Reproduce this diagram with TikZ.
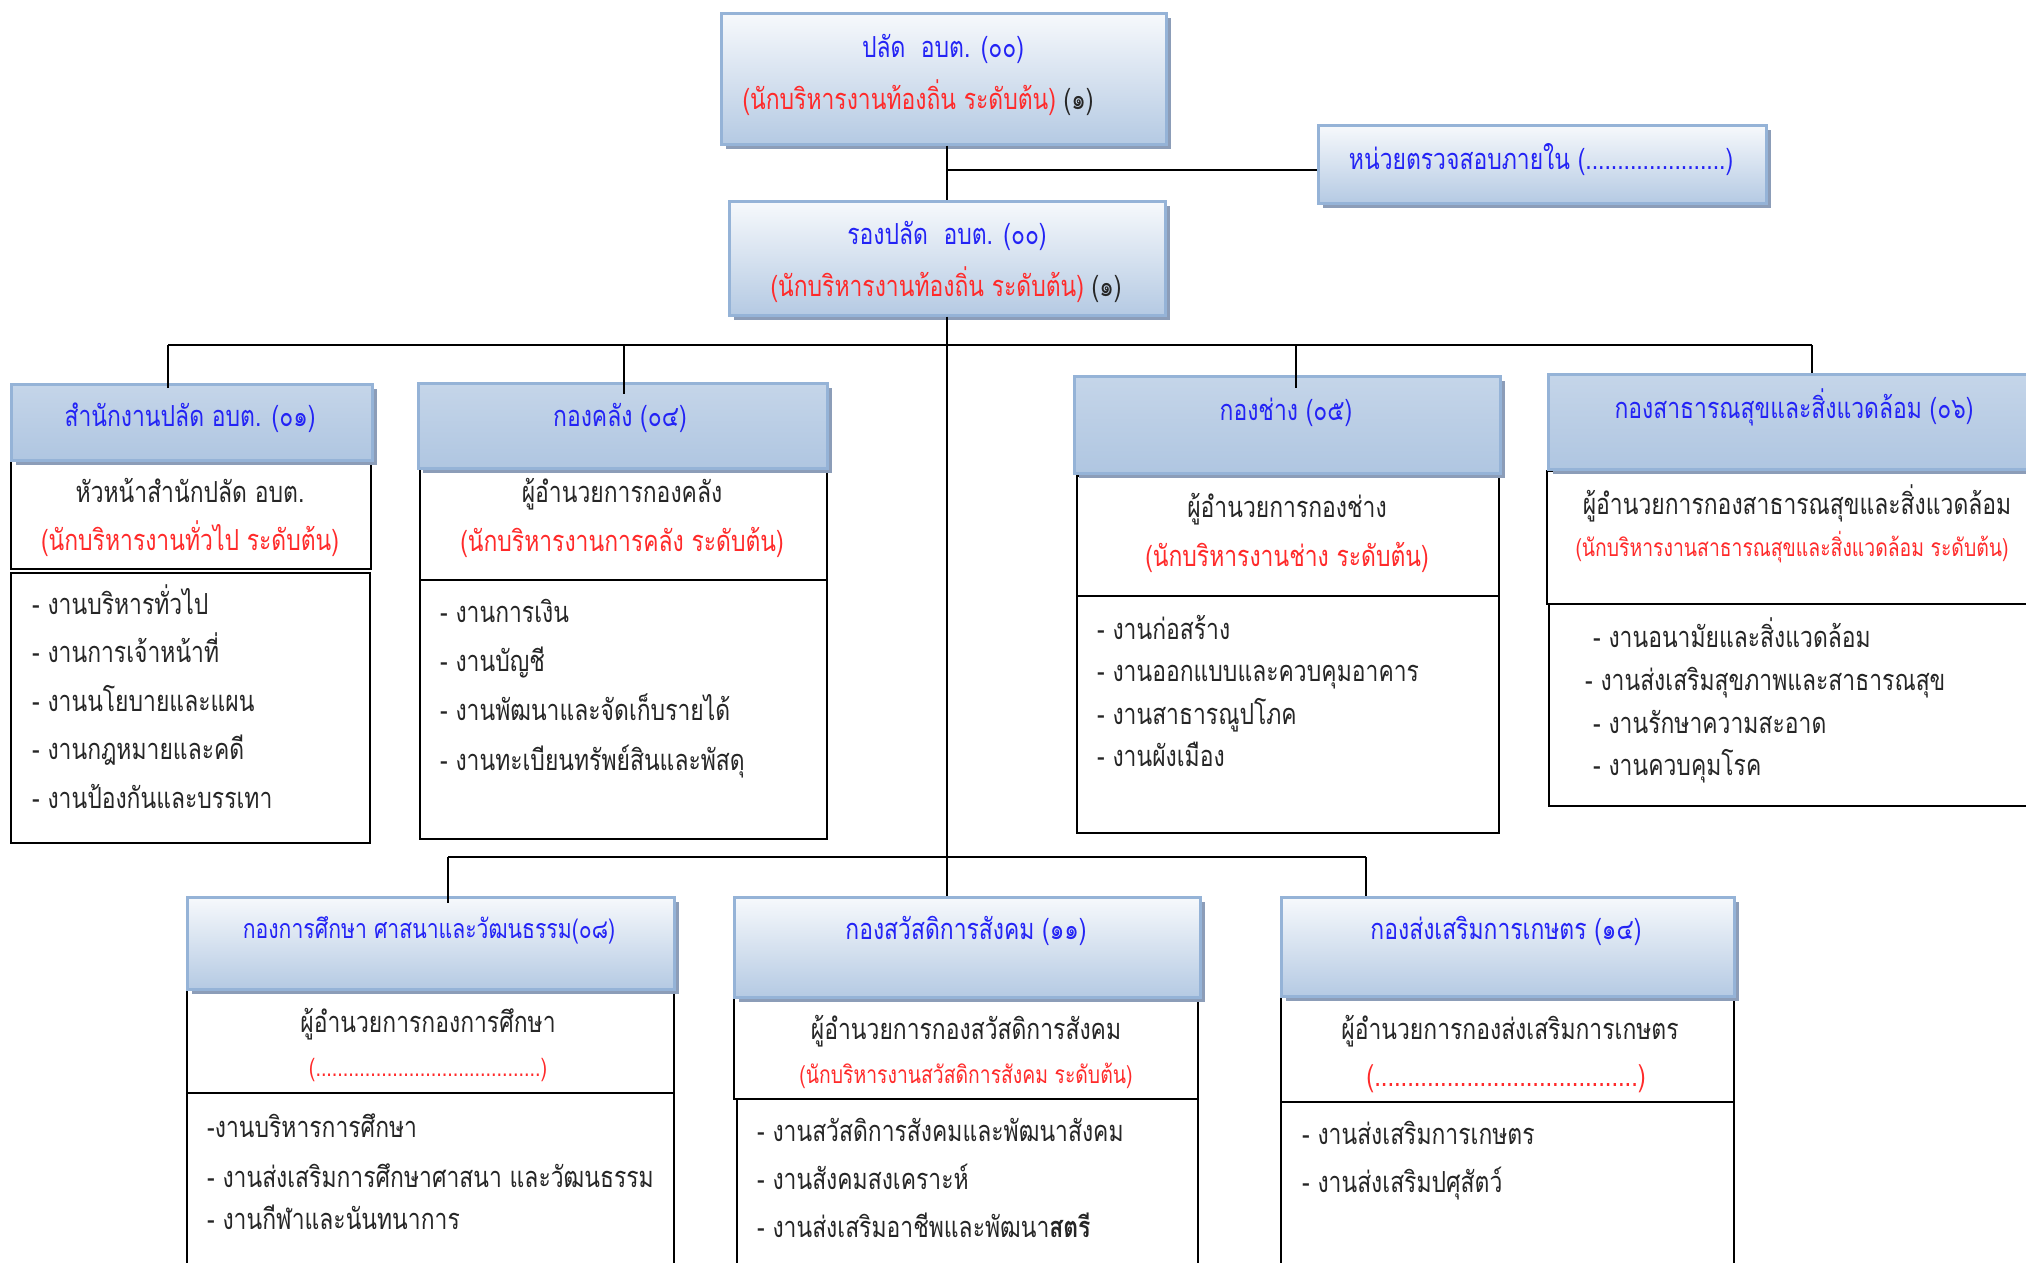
\documentclass[tikz,border=0pt]{standalone}
\usepackage{fontspec}
\setmainfont[Script=Thai, FakeStretch=0.79]{Loma}
\usetikzlibrary{shadows}

\definecolor{hdrline}{HTML}{95B3D7}
\definecolor{shadowc}{HTML}{8C9DB8}
\definecolor{tblue}{HTML}{2323F5}
\definecolor{tred}{HTML}{FF2A2A}
\definecolor{tgrey}{HTML}{262626}

\tikzset{
  conn/.style={draw=black, line width=2pt},
  plainbox/.style={draw=black, line width=2.4pt, fill=white, inner sep=0pt, anchor=north west},
  hdrbase/.style={draw=hdrline, line width=2.5pt, inner sep=0pt, anchor=north west,
    drop shadow={shadow xshift=5pt, shadow yshift=-5pt, fill=shadowc, opacity=1}},
  hdrtop/.style={hdrbase, top color=white!92!hdrline, bottom color=hdrline!70!white},
  hdrmid/.style={hdrbase, top color=hdrline!55!white, middle color=white!80!hdrline, bottom color=hdrline!75!white},
  txt/.style={inner sep=0pt, anchor=base, font=\fontsize{29}{33}\selectfont, text=tgrey},
  ttl/.style={txt, text=tblue},
  rnk/.style={txt, text=tred},
  rnks/.style={txt, text=tred, font=\fontsize{24.5}{28}\selectfont},
  item/.style={txt, anchor=base west},
}

\begin{document}
\begin{tikzpicture}[x=1pt, y=-1pt]
\useasboundingbox (0,0) rectangle (2026,1262);
\clip (0,0) rectangle (2026,1262);
\fill[white] (0,0) rectangle (2026,1262);

% ---- lower boxes of each division (drawn first, headers overlap them)
\node[plainbox, minimum width=359pt, minimum height=270pt] (officeL) at (10,572) {};
\node[plainbox, minimum width=360pt, minimum height=109pt] (officeS) at (10,459) {};
\node[plainbox, minimum width=407pt, minimum height=259pt] (finL) at (419,579) {};
\node[plainbox, minimum width=407pt, minimum height=112pt] (finS) at (419,467) {};
\node[plainbox, minimum width=422pt, minimum height=237pt] (engL) at (1076,595) {};
\node[plainbox, minimum width=422pt, minimum height=120pt] (engS) at (1076,475) {};
\node[plainbox, minimum width=500pt, minimum height=202pt] (hlthL) at (1548,603) {};
\node[plainbox, minimum width=500pt, minimum height=133pt] (hlthS) at (1546,470) {};
\node[plainbox, minimum width=487pt, minimum height=200pt] (eduL) at (186,1092) {};
\node[plainbox, minimum width=487pt, minimum height=104pt] (eduS) at (186,988) {};
\node[plainbox, minimum width=461pt, minimum height=200pt] (welL) at (736,1098) {};
\node[plainbox, minimum width=464pt, minimum height=102pt] (welS) at (733,996) {};
\node[plainbox, minimum width=453pt, minimum height=200pt] (agrL) at (1280,1101) {};
\node[plainbox, minimum width=453pt, minimum height=106pt] (agrS) at (1280,995) {};

% ---- connector junctions
\coordinate (j0) at (946,170);
\coordinate (busA) at (168,345);
\coordinate (busB) at (624,345);
\coordinate (busC) at (1296,345);
\coordinate (busD) at (1812,345);
\coordinate (lowA) at (448,857);
\coordinate (lowB) at (1366,857);

% ---- header boxes
\node[hdrtop, minimum width=445pt, minimum height=131pt] (top) at (720,12) {};
\node[hdrtop, minimum width=436pt, minimum height=114pt] (deputy) at (728,200) {};
\node[hdrtop, minimum width=448pt, minimum height=78pt] (audit) at (1317,124) {};
\node[hdrmid, minimum width=361pt, minimum height=76pt] (office) at (10,383) {};
\node[hdrmid, minimum width=409pt, minimum height=85pt] (fin) at (417,382) {};
\node[hdrmid, minimum width=426pt, minimum height=97pt] (eng) at (1073,375) {};
\node[hdrmid, minimum width=500pt, minimum height=95pt] (hlth) at (1547,373) {};
\node[hdrtop, minimum width=487pt, minimum height=92pt] (edu) at (186,896) {};
\node[hdrtop, minimum width=466pt, minimum height=100pt] (wel) at (733,896) {};
\node[hdrtop, minimum width=453pt, minimum height=99pt] (agr) at (1280,896) {};

\draw[conn] (deputy.north |- top.south) -- (deputy.north);
\draw[conn] (j0) -- (j0 -| audit.west);
\draw[conn] (deputy.south) -- (deputy.south |- wel.north);
\draw[conn] (busA) -- (busD);
\draw[conn] (busA) -- (busA |- office.north) -- ++(0,5);
\draw[conn] (busB) -- (busB |- fin.north) -- ++(0,12);
\draw[conn] (busC) -- (busC |- eng.north) -- ++(0,13);
\draw[conn] (busD) -- (busD |- hlth.north);
\draw[conn] (lowA) -- (lowB);
\draw[conn] (lowA) -- (lowA |- edu.north) -- ++(0,7);
\draw[conn] (lowB) -- (lowB |- agr.north);

% ---- top level
\node[ttl] (topA) at (943,57) {ปลัด\ \ อบต. (๐๐)};
\node[txt] (topB) at (918,109) {\textcolor{tred}{(นักบริหารงานท้องถิ่น ระดับต้น)} (๑)};
\node[ttl] (depA) at (947,244) {รองปลัด\ \ อบต. (๐๐)};
\node[txt] (depB) at (946,296) {\textcolor{tred}{(นักบริหารงานท้องถิ่น ระดับต้น)} (๑)};
\node[ttl] (audA) at (1541,169) {หน่วยตรวจสอบภายใน (......................)};

% ---- office of the permanent secretary
\node[ttl] (offA) at (190,426) {สำนักงานปลัด อบต. (๐๑)};
\node[txt] (offB) at (190,502) {หัวหน้าสำนักปลัด อบต.};
\node[rnk] (offC) at (190,550) {(นักบริหารงานทั่วไป ระดับต้น)};
\node[item] (off1) at (32,614) {- งานบริหารทั่วไป};
\node[item] (off2) at (32,662) {- งานการเจ้าหน้าที่};
\node[item] (off3) at (32,711) {- งานนโยบายและแผน};
\node[item] (off4) at (32,759) {- งานกฎหมายและคดี};
\node[item] (off5) at (32,808) {- งานป้องกันและบรรเทา};

% ---- finance
\node[ttl] (finA) at (620,426) {กองคลัง (๐๔)};
\node[txt] (finB) at (622,502) {ผู้อำนวยการกองคลัง};
\node[rnk] (finC) at (622,551) {(นักบริหารงานการคลัง ระดับต้น)};
\node[item] (fin1) at (440,622) {- งานการเงิน};
\node[item] (fin2) at (440,671) {- งานบัญชี};
\node[item] (fin3) at (440,720) {- งานพัฒนาและจัดเก็บรายได้};
\node[item] (fin4) at (440,770) {- งานทะเบียนทรัพย์สินและพัสดุ};

% ---- engineering
\node[ttl] (engA) at (1286,420) {กองช่าง (๐๕)};
\node[txt] (engB) at (1287,517) {ผู้อำนวยการกองช่าง};
\node[rnk] (engC) at (1287,566) {(นักบริหารงานช่าง ระดับต้น)};
\node[item] (eng1) at (1097,639) {- งานก่อสร้าง};
\node[item] (eng2) at (1097,681) {- งานออกแบบและควบคุมอาคาร};
\node[item] (eng3) at (1097,724) {- งานสาธารณูปโภค};
\node[item] (eng4) at (1097,766) {- งานผังเมือง};

% ---- public health and environment
\node[ttl] (hlA) at (1794,418) {กองสาธารณสุขและสิ่งแวดล้อม (๐๖)};
\node[txt] (hlB) at (1797,514) {ผู้อำนวยการกองสาธารณสุขและสิ่งแวดล้อม};
\node[rnks] (hlC) at (1792,556) {(นักบริหารงานสาธารณสุขและสิ่งแวดล้อม ระดับต้น)};
\node[item] (hl1) at (1593,647) {- งานอนามัยและสิ่งแวดล้อม};
\node[item] (hl2) at (1585,690) {- งานส่งเสริมสุขภาพและสาธารณสุข};
\node[item] (hl3) at (1593,733) {- งานรักษาความสะอาด};
\node[item] (hl4) at (1593,775) {- งานควบคุมโรค};

% ---- education
\node[ttl, font=\fontsize{26.8}{30}\selectfont] (edA) at (429,938) {กองการศึกษา ศาสนาและวัฒนธรรม(๐๘)};
\node[txt] (edB) at (428,1032) {ผู้อำนวยการกองการศึกษา};
\node[rnks, font=\fontsize{25}{28}\selectfont] (edC) at (428,1076) {(.........................................)};
\node[item] (ed1) at (207,1137) {-งานบริหารการศึกษา};
\node[item] (ed2) at (207,1187) {- งานส่งเสริมการศึกษาศาสนา และวัฒนธรรม};
\node[item] (ed3) at (207,1229) {- งานกีฬาและนันทนาการ};

% ---- social welfare
\node[ttl] (weA) at (966,939) {กองสวัสดิการสังคม (๑๑)};
\node[txt] (weB) at (966,1039) {ผู้อำนวยการกองสวัสดิการสังคม};
\node[rnks] (weC) at (966,1083) {(นักบริหารงานสวัสดิการสังคม ระดับต้น)};
\node[item] (we1) at (757,1141) {- งานสวัสดิการสังคมและพัฒนาสังคม};
\node[item] (we2) at (757,1189) {- งานสังคมสงเคราะห์};
\node[item] (we3) at (757,1237) {- งานส่งเสริมอาชีพและพัฒนา\textbf{สตรี}};

% ---- agriculture
\node[ttl] (agA) at (1506,939) {กองส่งเสริมการเกษตร (๑๔)};
\node[txt] (agB) at (1510,1039) {ผู้อำนวยการกองส่งเสริมการเกษตร};
\node[rnk, font=\fontsize{30}{34}\selectfont] (agC) at (1506,1086) {(........................................)};
\node[item] (ag1) at (1302,1144) {- งานส่งเสริมการเกษตร};
\node[item] (ag2) at (1302,1192) {- งานส่งเสริมปศุสัตว์};
\end{tikzpicture}
\end{document}
